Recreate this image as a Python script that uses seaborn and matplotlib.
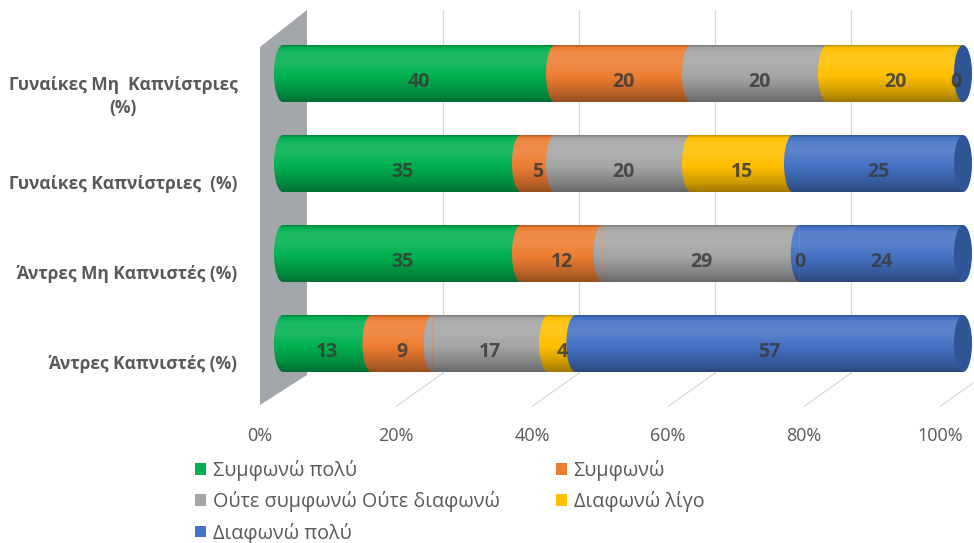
import numpy as np
import pandas as pd
import matplotlib
matplotlib.use("Agg")
import matplotlib.pyplot as plt
import seaborn as sns
from matplotlib.patches import Polygon, Ellipse, Patch

# ---------------- data ----------------
categories = ["Γυναίκες Μη  Καπνίστριες\n(%)",
              "Γυναίκες Καπνίστριες  (%)",
              "Άντρες Μη Καπνιστές (%)",
              "Άντρες Καπνιστές (%)"]
series_names = ["Συμφωνώ πολύ", "Συμφωνώ", "Ούτε συμφωνώ Ούτε διαφωνώ",
                "Διαφωνώ λίγο", "Διαφωνώ πολύ"]
agree_much = [40, 35, 35, 13]
agree = [20, 5, 12, 9]
neutral = [20, 20, 29, 17]
disagree_little = [20, 15, 0, 4]
disagree_much = [0, 25, 24, 57]
x_ticks = [0, 20, 40, 60, 80, 100]
x_tick_labels = ["0%", "20%", "40%", "60%", "80%", "100%"]

colors = ["#00B050", "#ED7D31", "#A5A5A5", "#FFC000", "#4472C4"]
cap_color = "#2F5597"
text_grey = "#595959"

series_values = [agree_much, agree, neutral, disagree_little, disagree_much]
vals = np.array(series_values, dtype=float)          # (5, 4)
cums = np.cumsum(vals, axis=0)                        # cumulative ends
starts = cums - vals

sns.set_theme(style="white")
plt.rcParams["font.family"] = ["Open Sans", "DejaVu Sans"]

fig = plt.figure(figsize=(9.74, 5.43), dpi=100)
# data 0 -> px 283, 100 -> px 963 (6.8 px / unit)
px_per = 6.8
xmin, xmax = -4.0, 102.5
left_px = 283 + xmin * px_per
width_px = (xmax - xmin) * px_per
ax = fig.add_axes([left_px / 974, (543 - 410) / 543, width_px / 974, 400 / 543])

bar_h = 57 / 90.0

# stacked bars through overlaid cumulative bars (right-most first)
for k in range(len(series_names) - 1, -1, -1):
    df = pd.DataFrame({"cat": categories, "val": cums[k]})
    sns.barplot(data=df, x="val", y="cat", orient="h", color=colors[k],
                saturation=1, width=bar_h, linewidth=0, edgecolor="none",
                ax=ax, zorder=2, errorbar=None)

ax.set_xlim(xmin, xmax)
ax.set_ylim(3.739, -0.7056)

rx = 9 / px_per            # half-width of the elliptical ends (data units)
ry = bar_h / 2

# ---------- 3D-like back wall, gridlines and floor lines ----------
back_off = 3.53
front_off = -3.38
wall = Polygon([(front_off, -0.294), (back_off, -0.7056),
                (back_off, 3.35), (front_off, 3.683)],
               closed=True, facecolor="#A3A6AB", edgecolor="none",
               zorder=0.6, clip_on=False)
ax.add_patch(wall)
for v in x_ticks[1:]:
    ax.plot([v + back_off, v + back_off], [-0.7056, 3.33], color="#D9D9D9",
            lw=0.9, zorder=0.5, clip_on=False)
    ax.plot([v + back_off, v + front_off], [3.33, 3.70], color="#D9D9D9",
            lw=0.9, zorder=0.5, clip_on=False)

# ---------- cylinder details ----------
theta = np.linspace(np.pi / 2, 3 * np.pi / 2, 60)
t = np.linspace(0, 1, 200)
sig = np.interp(t, [0, 0.05, 0.12, 0.3, 0.55, 0.85, 1.0],
                   [-0.25, 0.0, 0.10, 0.12, 0.0, -0.22, -0.38])
grad = np.zeros((len(t), 1, 4))
grad[..., :3] = np.where(sig[:, None, None] > 0, 1.0, 0.0)
grad[..., 3] = np.abs(sig)[:, None]

for i in range(len(categories)):
    yc = i
    # left elliptical bulges for each segment
    for k in range(len(series_names)):
        if vals[k, i] <= 0:
            continue
        a = starts[k, i]
        pts = np.column_stack([a + rx * np.cos(theta), yc - ry * np.sin(theta)])
        ax.add_patch(Polygon(pts, closed=True, facecolor=colors[k],
                             edgecolor="none", zorder=2.5, clip_on=False))
    # shading clip shape
    pts = np.column_stack([0 + rx * np.cos(theta), yc - ry * np.sin(theta)])
    pts = np.vstack([pts, [[100, yc + ry], [100, yc - ry]]])
    clip = Polygon(pts, closed=True, transform=ax.transData)
    im = ax.imshow(grad, extent=(-rx, 100, yc + ry, yc - ry), aspect="auto",
                   zorder=3, interpolation="bilinear")
    im.set_clip_path(clip)
    # right end cap
    ax.add_patch(Ellipse((100, yc), 2 * rx, bar_h, facecolor=cap_color,
                         edgecolor="none", zorder=3.5, clip_on=False))
    # value labels
    for k in range(len(series_names)):
        v = vals[k, i]
        xpos = starts[k, i] + v / 2
        if v == 0 and starts[k, i] >= 100:
            xpos = 99
        ax.text(xpos, yc + 0.095, f"{int(v)}",
                ha="center", va="center", fontsize=14, fontweight="bold",
                color="#3A3A3A", alpha=0.85, zorder=5)

ax.set_xlim(xmin, xmax)
ax.set_ylim(3.739, -0.7056)

# axes cosmetics
for s in ax.spines.values():
    s.set_visible(False)
ax.grid(False)
ax.set_xlabel("")
ax.set_ylabel("")
ax.set_xticks([v + front_off for v in x_ticks])
ax.set_xticklabels(x_tick_labels, fontsize=13, color=text_grey)
ax.tick_params(axis="x", length=0, pad=12)
ax.set_yticks([i + 0.21 for i in range(len(categories))])
ax.set_yticklabels(categories, fontsize=12.5, color=text_grey, fontweight="bold")
ax.tick_params(axis="y", length=0, pad=13)
for lab in ax.get_yticklabels():
    lab.set_multialignment("center")
    lab.set_linespacing(1.35)

# legend (row-wise order in 2 columns)
handles = [Patch(facecolor=c, edgecolor="none") for c in colors]
order = [0, 2, 4, 1, 3]
leg = fig.legend([handles[j] for j in order], [series_names[j] for j in order],
                 ncol=2, loc="upper left",
                 bbox_to_anchor=(195 / 974, 1 - 460 / 543),
                 frameon=False, fontsize=14.2, handlelength=0.55,
                 handleheight=0.55, handletextpad=0.35, labelspacing=0.52,
                 columnspacing=2.85, labelcolor=text_grey,
                 borderaxespad=0, borderpad=0)

fig.savefig("out.png", dpi=100)
